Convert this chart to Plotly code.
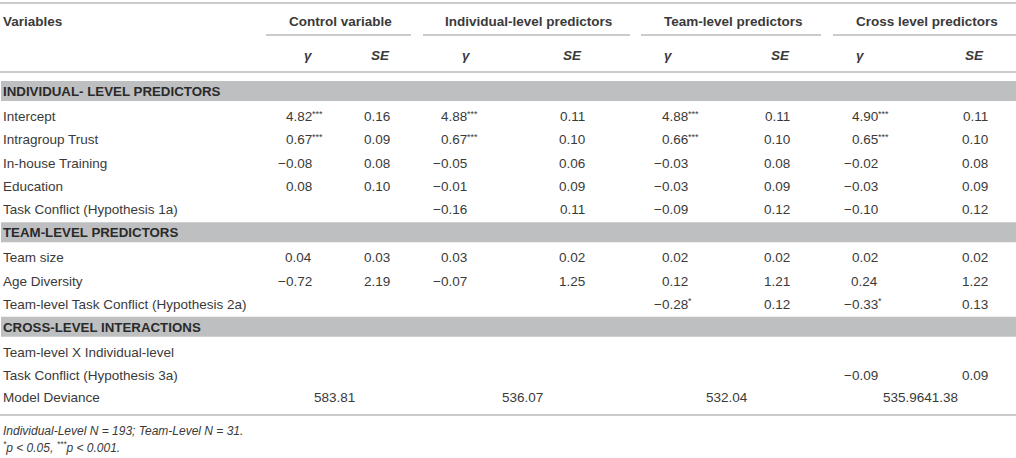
import plotly.graph_objects as go

# Table values
variables = [
    "Intercept",
    "Intragroup Trust",
    "In-house Training",
    "Education",
    "Task Conflict (Hypothesis 1a)",
    "Team size",
    "Age Diversity",
    "Team-level Task Conflict (Hypothesis 2a)",
    "Team-level X Individual-level",
    "Task Conflict (Hypothesis 3a)",
]
sections = ["INDIVIDUAL- LEVEL PREDICTORS", "TEAM-LEVEL PREDICTORS", "CROSS-LEVEL INTERACTIONS"]
section_sizes = [5, 3, 2]

models = ["Control variable", "Individual-level predictors", "Team-level predictors", "Cross level predictors"]

control_gamma = [4.82, 0.67, -0.08, 0.08, None, 0.04, -0.72, None, None, None]
control_se = [0.16, 0.09, 0.08, 0.10, None, 0.03, 2.19, None, None, None]
control_sig = ["***", "***", "", "", "", "", "", "", "", ""]

individual_gamma = [4.88, 0.67, -0.05, -0.01, -0.16, 0.03, -0.07, None, None, None]
individual_se = [0.11, 0.10, 0.06, 0.09, 0.11, 0.02, 1.25, None, None, None]
individual_sig = ["***", "***", "", "", "", "", "", "", "", ""]

team_gamma = [4.88, 0.66, -0.03, -0.03, -0.09, 0.02, 0.12, -0.28, None, None]
team_se = [0.11, 0.10, 0.08, 0.09, 0.12, 0.02, 1.21, 0.12, None, None]
team_sig = ["***", "***", "", "", "", "", "", "*", "", ""]

cross_gamma = [4.90, 0.65, -0.02, -0.03, -0.10, 0.02, 0.24, -0.33, None, -0.09]
cross_se = [0.11, 0.10, 0.08, 0.09, 0.12, 0.02, 1.22, 0.13, None, 0.09]
cross_sig = ["***", "***", "", "", "", "", "", "*", "", ""]

model_deviance = ["583.81", "536.07", "532.04", "535.9641.38"]

footnotes = [
    "<i>Individual-Level N = 193; Team-Level N = 31.</i>",
    "<i><sup>*</sup>p < 0.05, <sup>***</sup>p < 0.001.</i>",
]

W, H = 1016, 458
FONT = "Liberation Sans, Arial, sans-serif"
TEXT = "#3a3a3a"
RULE = "#cbcbcb"
BAND = "#bebfc1"

# column geometry (pixels)
group_spans = [(266, 411), (423, 630), (641, 821), (833, 1016)]
gamma_head_x = [308, 466, 668, 860]
se_head_x = [380, 572, 780, 974]
gamma_right = [312, 467, 688, 878]
se_right = [390, 585, 790, 988]

gammas = [control_gamma, individual_gamma, team_gamma, cross_gamma]
ses = [control_se, individual_se, team_se, cross_se]
sigs = [control_sig, individual_sig, team_sig, cross_sig]

ROW = 23.3
BAND_H = 20


def fmt(v):
    return f"{v:.2f}".replace("-", "\u2212")


fig = go.Figure()
shapes = []
annotations = []


def text(x, y, s, anchor="left", size=13.5, bold=False, color=TEXT, xshift=0, yshift=0):
    annotations.append(dict(
        x=x, y=y, xref="x", yref="y", text=s, showarrow=False,
        xanchor=anchor, yanchor="middle", xshift=xshift, yshift=yshift,
        borderpad=0, borderwidth=0,
        font=dict(family=FONT, size=size, color=color, weight="bold" if bold else "normal"),
    ))


def hline(y, x0=0, x1=W):
    shapes.append(dict(type="line", x0=x0, x1=x1, y0=y, y1=y, xref="x", yref="y",
                       line=dict(color=RULE, width=2)))


# header
hline(3)
text(3, 21, "Variables", bold=True)
for i, name in enumerate(models):
    x0, x1 = group_spans[i]
    text((x0 + x1) / 2 + 2, 21, name, anchor="center", bold=True)
    hline(35, x0, x1)
    text(gamma_head_x[i], 55, "<i>\u03b3</i>", anchor="center", bold=True)
    text(se_head_x[i], 55, "<i>SE</i>", anchor="center", bold=True)
hline(72)

# body: grey section bands, then the rows under each
y = 81
row = 0
for sec, n in zip(sections, section_sizes):
    shapes.append(dict(type="rect", x0=1, x1=W, y0=y, y1=y + BAND_H, xref="x", yref="y",
                       fillcolor=BAND, line=dict(width=0), layer="below"))
    text(3, y + BAND_H / 2 + 0.5, sec, size=13.3, bold=True, color="#2a2a2a")
    y += BAND_H + 15.5
    for k in range(n):
        text(3, y, variables[row])
        for m in range(4):
            g = gammas[m][row]
            if g is not None:
                text(gamma_right[m], y, fmt(g), anchor="right")
                if sigs[m][row]:
                    text(gamma_right[m], y, sigs[m][row], size=9, yshift=3)
            s = ses[m][row]
            if s is not None:
                text(se_right[m], y, fmt(s), anchor="right")
        row += 1
        if k < n - 1:
            y += ROW
    y += 12.5

# model deviance
y_md = y - 12.5 + 22
text(3, y_md, "Model Deviance")
for i, dev in enumerate(model_deviance):
    x0, x1 = group_spans[i]
    text((x0 + x1) / 2 - 4, y_md, dev, anchor="center")
hline(415)

text(3, 431, footnotes[0], size=12)
text(3, 447, footnotes[1], size=12)

fig.update_layout(
    width=W, height=H, autosize=False,
    margin=dict(l=0, r=0, t=0, b=0),
    paper_bgcolor="white", plot_bgcolor="white",
    xaxis=dict(range=[0, W], visible=False, fixedrange=True),
    yaxis=dict(range=[H, 0], visible=False, fixedrange=True),
    shapes=shapes, annotations=annotations,
    showlegend=False,
)

fig.write_html(
    "out.html",
    config={"displayModeBar": False},
    post_script="document.body.style.margin='0';document.body.style.overflow='hidden';",
)
